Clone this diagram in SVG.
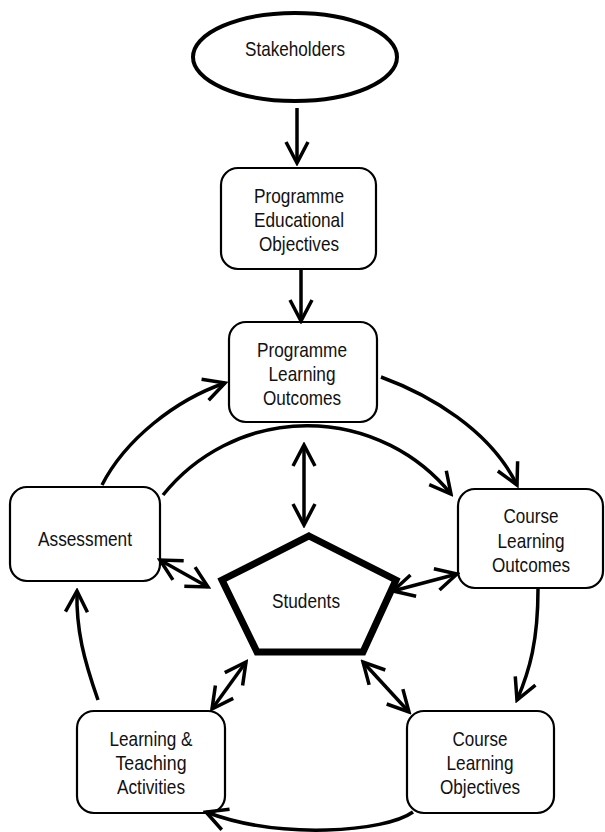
<svg xmlns="http://www.w3.org/2000/svg" width="605" height="832" viewBox="0 0 605 832">
<style>
.box{fill:#fff;stroke:#000;stroke-width:2.2}
.t{font-family:"Liberation Sans",Arial,sans-serif;font-size:21px;fill:#111;text-anchor:middle}
.c{fill:none;stroke:#000;stroke-width:3.5}
</style>
<defs>
<marker id="ah" viewBox="0 0 26 26" refX="23" refY="13" markerWidth="26" markerHeight="26" markerUnits="userSpaceOnUse" orient="auto-start-reverse">
<path d="M2,2 L23,13 L2,24" fill="none" stroke="#000" stroke-width="3.5"/>
</marker>
</defs>
<rect width="605" height="832" fill="#fff"/>
<g id="stakeholders">
<ellipse cx="295" cy="57" rx="102" ry="44" fill="#fff" stroke="#000" stroke-width="4"/>
<text class="t" x="295" y="56" textLength="100" lengthAdjust="spacingAndGlyphs">Stakeholders</text>
</g>
<g id="peo">
<rect class="box" x="221" y="168" width="155" height="101" rx="17"/>
<text class="t" x="299" y="203" textLength="90" lengthAdjust="spacingAndGlyphs">Programme</text>
<text class="t" x="299" y="227" textLength="90" lengthAdjust="spacingAndGlyphs">Educational</text>
<text class="t" x="299" y="251" textLength="80" lengthAdjust="spacingAndGlyphs">Objectives</text>
</g>
<g id="plo">
<rect class="box" x="229" y="322" width="148" height="100" rx="17"/>
<text class="t" x="302" y="357" textLength="90" lengthAdjust="spacingAndGlyphs">Programme</text>
<text class="t" x="302" y="381" textLength="67" lengthAdjust="spacingAndGlyphs">Learning</text>
<text class="t" x="302" y="405" textLength="78" lengthAdjust="spacingAndGlyphs">Outcomes</text>
</g>
<g id="assessment">
<rect class="box" x="10" y="487" width="150" height="94" rx="17"/>
<text class="t" x="85" y="546" textLength="94" lengthAdjust="spacingAndGlyphs">Assessment</text>
</g>
<g id="clo">
<rect class="box" x="458" y="489" width="145" height="99" rx="17"/>
<text class="t" x="531" y="523" textLength="55" lengthAdjust="spacingAndGlyphs">Course</text>
<text class="t" x="531" y="548" textLength="67" lengthAdjust="spacingAndGlyphs">Learning</text>
<text class="t" x="531" y="572" textLength="78" lengthAdjust="spacingAndGlyphs">Outcomes</text>
</g>
<g id="students">
<polygon points="309,536 396,580 363,652 257,652 222,580" fill="#fff" stroke="#000" stroke-width="7"/>
<text class="t" x="306" y="608" textLength="68" lengthAdjust="spacingAndGlyphs">Students</text>
</g>
<g id="lta">
<rect class="box" x="77" y="711" width="148" height="102" rx="17"/>
<text class="t" x="151" y="746" textLength="83" lengthAdjust="spacingAndGlyphs">Learning &amp;</text>
<text class="t" x="151" y="770" textLength="71" lengthAdjust="spacingAndGlyphs">Teaching</text>
<text class="t" x="151" y="794" textLength="68" lengthAdjust="spacingAndGlyphs">Activities</text>
</g>
<g id="clobj">
<rect class="box" x="407" y="711" width="147" height="102" rx="17"/>
<text class="t" x="480" y="746" textLength="55" lengthAdjust="spacingAndGlyphs">Course</text>
<text class="t" x="480" y="770" textLength="67" lengthAdjust="spacingAndGlyphs">Learning</text>
<text class="t" x="480" y="794" textLength="80" lengthAdjust="spacingAndGlyphs">Objectives</text>
</g>
<g id="connectors" class="c">
<path d="M297,108 L297,163" marker-end="url(#ah)"/>
<path d="M301,269 L301,321" marker-end="url(#ah)"/>
<path d="M381,377 C430,395 490,430 517,485" marker-end="url(#ah)"/>
<path d="M102,485 C125,440 175,400 225,383" marker-end="url(#ah)"/>
<path d="M163,495 A185,185 0 0 1 451,494" marker-end="url(#ah)"/>
<path d="M304,445 L304,525" marker-start="url(#ah)" marker-end="url(#ah)"/>
<path d="M160,560 L208,587" marker-start="url(#ah)" marker-end="url(#ah)"/>
<path d="M393,591 L457,574" marker-start="url(#ah)" marker-end="url(#ah)"/>
<path d="M538,589 C538,640 530,670 517,700" marker-end="url(#ah)"/>
<path d="M413,812 C385,832 280,840 206,812" marker-end="url(#ah)"/>
<path d="M98,700 C84,660 76,630 77,591" marker-end="url(#ah)"/>
<path d="M212,709 L246,662" marker-start="url(#ah)" marker-end="url(#ah)"/>
<path d="M363,662 L409,712" marker-start="url(#ah)" marker-end="url(#ah)"/>
</g>
</svg>
